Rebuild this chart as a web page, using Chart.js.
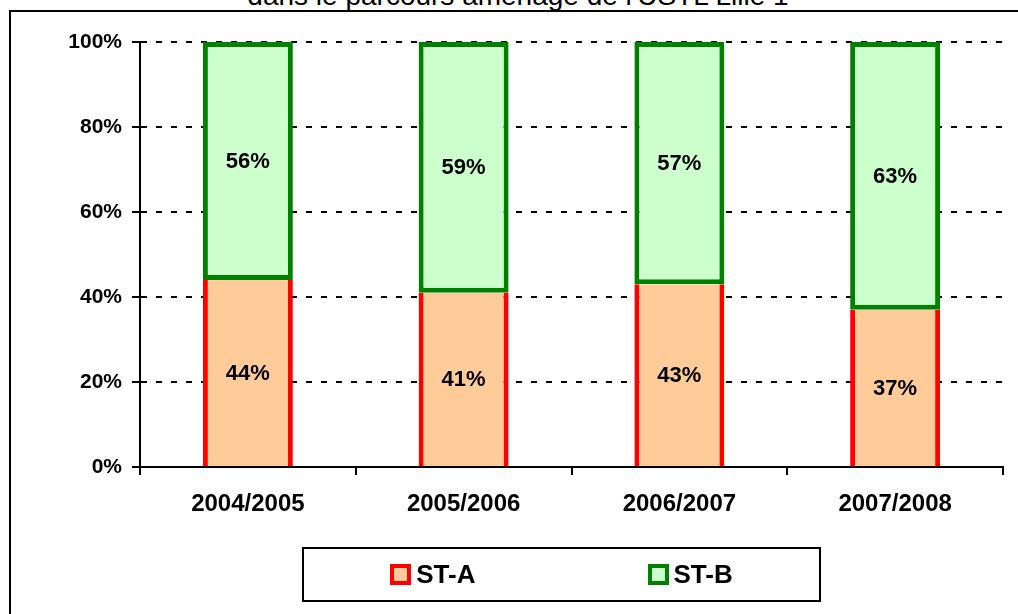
<!DOCTYPE html>
<html>
<head>
<meta charset="utf-8">
<script src="https://cdn.jsdelivr.net/npm/chart.js@4/dist/chart.umd.min.js"></script>
<style>
  html, body { margin: 0; padding: 0; background: #fff; overflow: hidden; }
  #wrap { position: relative; width: 1018px; height: 614px; overflow: hidden; font-family: 'Liberation Sans', Arial, sans-serif; }
  #frame { position: absolute; left: 9px; top: 10px; width: 1100px; height: 1000px; border: 2px solid #000; }
  #title { position: absolute; left: 0; width: 1036px; top: -18px; line-height: 28px; font-size: 28px; text-align: center; white-space: nowrap; }
  #chart { position: absolute; left: 0; top: 0; }
  #legend { position: absolute; left: 302px; top: 547px; width: 515px; height: 51px; border: 2px solid #000;
            display: flex; justify-content: center; align-items: center; gap: 172px; }
  .item { display: flex; align-items: center; font-weight: bold; font-size: 26px; }
  .box { width: 21px; height: 21px; box-sizing: border-box; border: 4px solid; margin-right: 5px; }
</style>
</head>
<body>
<div id="wrap">
  <div id="frame"></div>
  <div id="title">dans le parcours aménagé de l'USTL Lille 1</div>
  <canvas id="chart" width="1018" height="614"></canvas>
  <div id="legend"></div>
</div>
<script>
const years = ['2004/2005', '2005/2006', '2006/2007', '2007/2008'];
const stA = [44, 41, 43, 37];
const stB = [56, 59, 57, 63];
const yMax = 100;
const yStep = 20;

const FONT = "'Liberation Sans', Arial, sans-serif";
Chart.defaults.color = '#000';
Chart.defaults.font.family = FONT;

// labels au milieu de chaque segment
const segmentLabels = {
    id: 'segmentLabels',
    afterDatasetsDraw(chart) {
        const ctx = chart.ctx;
        ctx.save();
        ctx.font = 'bold 22px ' + FONT;
        ctx.fillStyle = '#000';
        ctx.textAlign = 'center';
        ctx.textBaseline = 'middle';
        chart.data.datasets.forEach((ds, i) => {
            chart.getDatasetMeta(i).data.forEach((bar, j) => {
                const y = (bar.y + bar.base) / 2;
                ctx.fillText(ds.data[j] + '%', bar.x, y + 1);
            });
        });
        ctx.restore();
    }
};

const chart = new Chart(document.getElementById('chart'), {
    type: 'bar',
    data: {
        labels: years,
        datasets: [
            {
                label: 'ST-A',
                data: stA,
                backgroundColor: '#FFCC99',
                borderColor: '#FF0000',
                borderWidth: { left: 5, right: 5, top: 0, bottom: 0 },
                borderSkipped: false,
            },
            {
                label: 'ST-B',
                data: stB,
                backgroundColor: '#CCFFCC',
                borderColor: '#008000',
                borderWidth: 5,
                borderSkipped: false,
            },
        ],
    },
    options: {
        responsive: false,
        animation: false,
        barPercentage: 0.417,
        categoryPercentage: 1,
        layout: { padding: { top: 42, right: 15, bottom: 0, left: 0 } },
        plugins: {
            legend: { display: false },
            tooltip: { enabled: false },
        },
        scales: {
            x: {
                stacked: true,
                afterFit: (scale) => { scale.height = 147; },
                grid: { drawOnChartArea: false, color: '#000', lineWidth: 2, tickLength: 8 },
                border: { color: '#000', width: 2 },
                ticks: { font: { size: 24, weight: 'bold' }, padding: 15, maxRotation: 0 },
            },
            y: {
                stacked: true,
                min: 0,
                max: yMax,
                afterFit: (scale) => { scale.width = 140; },
                grid: { color: '#000', lineWidth: 2, tickLength: 8 },
                border: { color: '#000', width: 2, dash: [6, 9] },
                ticks: {
                    stepSize: yStep,
                    font: { size: 21, weight: 'bold' },
                    padding: 10,
                    callback: (v) => v + '%',
                },
            },
        },
    },
    plugins: [segmentLabels],
});

// légende HTML à partir des éléments de légende de Chart.js
const legendEl = document.getElementById('legend');
chart.options.plugins.legend.labels.generateLabels(chart).forEach((item) => {
    const div = document.createElement('div');
    div.className = 'item';
    const box = document.createElement('span');
    box.className = 'box';
    box.style.background = item.fillStyle;
    box.style.borderColor = item.strokeStyle;
    div.appendChild(box);
    div.appendChild(document.createTextNode(item.text));
    legendEl.appendChild(div);
});
</script>
</body>
</html>
